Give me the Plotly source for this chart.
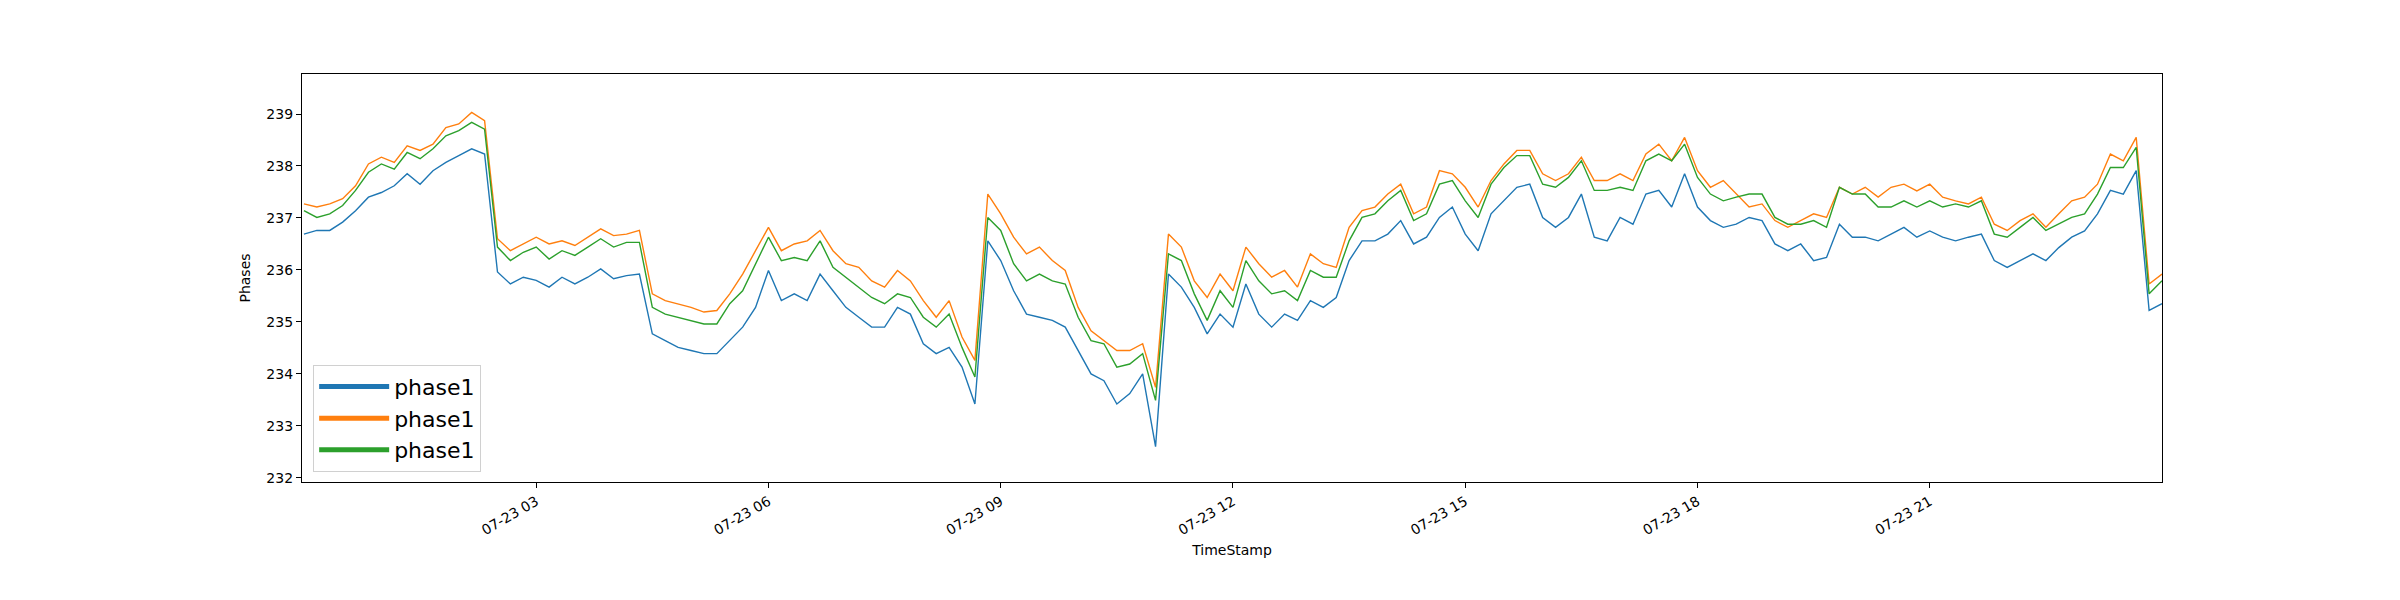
import pandas as pd
import plotly.graph_objects as go

times = pd.date_range("2019-07-23 00:00", periods=145, freq="10min")

blue = [236.69,236.76,236.76,236.92,237.14,237.40,237.49,237.62,237.85,237.65,237.91,238.07,238.20,238.33,238.23,
        235.96,235.73,235.86,235.80,235.67,235.86,235.73,235.86,236.02,235.83,235.89,235.92,
        234.77,234.64,234.51,234.45,234.39,234.39,234.64,234.90,235.28,235.99,235.41,235.54,235.41,235.92,235.60,235.28,
        235.09,234.90,234.90,235.28,235.15,234.58,234.39,234.51,234.13,233.42,
        236.56,236.18,235.60,235.15,235.09,235.03,234.90,234.45,234.00,233.87,233.42,233.62,234.00,232.60,
        235.92,235.67,235.28,234.77,235.15,234.90,235.73,235.15,234.90,235.15,235.03,235.41,235.28,235.47,236.18,236.56,
        236.56,236.69,236.95,236.50,236.63,237.01,237.21,236.69,236.37,237.08,237.33,237.59,237.65,237.01,236.82,237.01,
        237.46,236.63,236.56,237.01,236.88,237.46,237.53,237.21,237.85,237.21,236.95,236.82,236.88,237.01,236.95,236.50,
        236.37,236.50,236.18,236.24,236.88,236.63,236.63,236.56,236.69,236.82,236.63,236.75,236.63,236.56,236.63,236.69,
        236.18,236.05,236.18,236.31,236.18,236.43,236.63,236.75,237.08,237.53,237.46,237.91,235.22,235.35]
orange = [237.27,237.21,237.27,237.37,237.62,238.04,238.17,238.07,238.39,238.30,238.42,238.74,238.81,239.03,238.87,
          236.60,236.37,236.50,236.63,236.50,236.56,236.47,236.63,236.79,236.66,236.69,236.76,
          235.54,235.41,235.35,235.28,235.19,235.22,235.54,235.92,236.37,236.82,236.37,236.50,236.56,236.76,236.37,236.12,
          236.05,235.79,235.67,235.99,235.79,235.41,235.09,235.41,234.71,234.26,
          237.46,237.08,236.63,236.31,236.44,236.18,235.99,235.28,234.83,234.64,234.45,234.45,234.58,233.74,
          236.69,236.44,235.79,235.47,235.92,235.60,236.44,236.12,235.86,235.99,235.67,236.31,236.12,236.05,236.82,237.14,
          237.21,237.46,237.65,237.08,237.21,237.91,237.85,237.59,237.21,237.72,238.04,238.30,238.30,237.85,237.72,237.85,
          238.17,237.72,237.72,237.85,237.72,238.23,238.42,238.10,238.55,237.91,237.59,237.72,237.46,237.21,237.27,236.95,
          236.82,236.95,237.08,237.01,237.59,237.46,237.59,237.40,237.59,237.65,237.52,237.65,237.40,237.33,237.27,237.40,
          236.88,236.76,236.95,237.08,236.82,237.08,237.33,237.40,237.65,238.23,238.10,238.55,235.73,235.92]
green = [237.14,237.01,237.08,237.24,237.53,237.88,238.04,237.94,238.26,238.14,238.33,238.58,238.68,238.84,238.71,
         236.44,236.18,236.34,236.44,236.21,236.37,236.28,236.44,236.60,236.44,236.53,236.53,
         235.28,235.15,235.09,235.03,234.96,234.96,235.35,235.60,236.12,236.63,236.18,236.24,236.18,236.56,236.05,235.86,
         235.67,235.47,235.35,235.54,235.47,235.09,234.90,235.15,234.51,233.94,
         237.01,236.76,236.12,235.79,235.92,235.79,235.73,235.09,234.64,234.58,234.13,234.19,234.39,233.49,
         236.31,236.18,235.54,235.03,235.60,235.28,236.18,235.79,235.54,235.60,235.41,235.99,235.86,235.86,236.56,237.01,
         237.08,237.33,237.53,236.95,237.08,237.65,237.72,237.33,237.01,237.65,237.97,238.20,238.20,237.65,237.59,237.78,
         238.10,237.53,237.53,237.59,237.53,238.10,238.23,238.10,238.42,237.78,237.46,237.33,237.40,237.46,237.46,237.01,
         236.88,236.88,236.95,236.82,237.59,237.46,237.46,237.21,237.21,237.33,237.21,237.33,237.21,237.27,237.21,237.33,
         236.69,236.63,236.82,237.01,236.76,236.88,237.01,237.08,237.46,237.97,237.97,238.36,235.54,235.79]

names = ["phase1", "phase1", "phase1"]
colors = ["#1f77b4", "#ff7f0e", "#2ca02c"]
tick_times = ["2019-07-23 03:00", "2019-07-23 06:00", "2019-07-23 09:00",
              "2019-07-23 12:00", "2019-07-23 15:00", "2019-07-23 18:00", "2019-07-23 21:00"]

fig = go.Figure()
for ys, c in zip([blue, orange, green], colors):
    fig.add_trace(go.Scatter(x=times, y=ys, mode="lines", line=dict(color=c, width=1.4),
                             showlegend=False))
for n, c in zip(names, colors):
    fig.add_trace(go.Scatter(x=[None], y=[None], mode="lines", name=n,
                             line=dict(color=c, width=5), showlegend=True))

axis_common = dict(showline=True, linecolor="black", linewidth=1.3, mirror=True,
                   ticks="outside", ticklen=5, tickcolor="black", showgrid=False, zeroline=False,
                   tickfont=dict(family="DejaVu Sans", size=14, color="black"))
fig.update_layout(
    width=2400, height=600, plot_bgcolor="white", paper_bgcolor="white",
    margin=dict(l=294, r=246, t=66, b=126),
    font=dict(family="DejaVu Sans", color="black"),
    xaxis=dict(**axis_common, range=["2019-07-22 23:58:30", "2019-07-23 23:59:59"],
               tickvals=tick_times, tickformat="%m-%d %H", tickangle=-30,
               title=dict(text="TimeStamp", font=dict(size=14), standoff=8)),
    yaxis=dict(**axis_common, range=[231.92, 239.77], dtick=1,
               title=dict(text="Phases", font=dict(size=14), standoff=12)),
    legend=dict(x=0.006, y=0.025, xanchor="left", yanchor="bottom",
                bgcolor="rgba(255,255,255,0.8)", bordercolor="#d0d0d0", borderwidth=1,
                font=dict(size=22, family="DejaVu Sans"), tracegroupgap=0, itemwidth=70),
)
fig.write_html("out.html")
